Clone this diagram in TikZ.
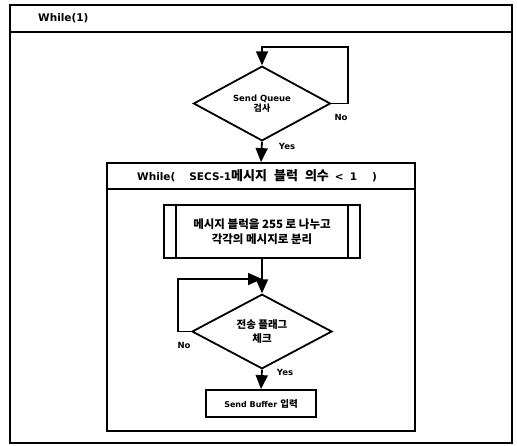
\documentclass[tikz,border=0pt]{standalone}
\usepackage{fontspec}
\setmainfont{DejaVu Sans}
\newfontfamily\kr{Noto Sans CJK KR}[UprightFont=* Bold]
\usetikzlibrary{shapes.geometric,arrows.meta}
\begin{document}
\begin{tikzpicture}[x=1pt,y=-1pt,
  every node/.style={font=\bfseries\fontsize{8.5}{10.5}\selectfont},
  big/.style={font=\bfseries\fontsize{10.5}{12}\selectfont},
  krtext/.style={font=\kr\bfseries\fontsize{11.5}{15}\selectfont},
  krdec/.style={font=\kr\bfseries\fontsize{10.5}{14}\selectfont},
  frame/.style={draw,line width=1.8pt,rectangle,inner sep=0pt},
  dec/.style={draw,line width=1.8pt,diamond,inner sep=0pt,align=center},
  proc/.style={draw,line width=1.8pt,rectangle,inner sep=0pt,align=center},
  lbl/.style={inner sep=0pt},
  conn/.style={line width=1.8pt},
  arr/.style={conn,-{Triangle[width=12pt,length=14pt]}}]
\useasboundingbox (0,0) rectangle (517,445);
% outer loop frame
\node[frame,minimum width=502pt,minimum height=438pt] (outer) at (261,224) {};
\draw[conn] (10,32) -- (512,32);
\node[lbl,big,anchor=west] (w1) at (38,18.5) {While(1)};
% first decision
\node[dec,minimum width=137pt,minimum height=53pt] (d1) at (262,103.5) {Send Queue\\[-1pt]{\kr\fontsize{9}{11}\selectfont 검사}};
\coordinate (l1) at (348,47);
\draw[arr] (d1.east) -| (l1) -| (d1.north);
\node[lbl] (no1) at (341,117) {No};
% inner loop frame
\node[frame,minimum width=308pt,minimum height=268pt] (inner) at (261,297) {};
\draw[arr] (d1.south) -- (inner.north);
\node[lbl] (yes1) at (287,146) {Yes};
\draw[conn] (107,189) -- (415,189);
\node[lbl,big,anchor=west] (w2) at (137,176) {While(\hspace{14pt}SECS-1{\kr\fontsize{13}{13}\selectfont 메시지\hspace{7pt}블럭\hspace{7pt}의수}\hspace{6pt}\textless\hspace{6pt}1\hspace{15pt})};
% predefined process
\node[proc,krtext,minimum width=196pt,minimum height=53pt] (p) at (262,231.5) {메시지 블럭을 255 로 나누고\\각각의 메시지로 분리};
\draw[conn] ([xshift=13pt]p.north west) -- ([xshift=13pt]p.south west);
\draw[conn] ([xshift=-13pt]p.north east) -- ([xshift=-13pt]p.south east);
% second decision
\node[dec,krdec,minimum width=140pt,minimum height=53pt] (d2) at (262,331.5) {전송 플래그\\체크};
\coordinate (j) at (262,279);
\coordinate (l2) at (178,279);
\draw[arr] (p.south) -- (d2.north);
\draw[arr] (d2.west) -| (l2) -- (j);
\node[lbl] (no2) at (184,345) {No};
% send buffer
\node[proc,minimum width=110pt,minimum height=27pt] (sb) at (261,403.5) {{\fontsize{8}{9}\selectfont Send Buffer} {\kr\fontsize{9.5}{11}\selectfont 입력}};
\draw[arr] (d2.south) -- (sb.north);
\node[lbl] (yes2) at (285,372) {Yes};
\end{tikzpicture}
\end{document}
